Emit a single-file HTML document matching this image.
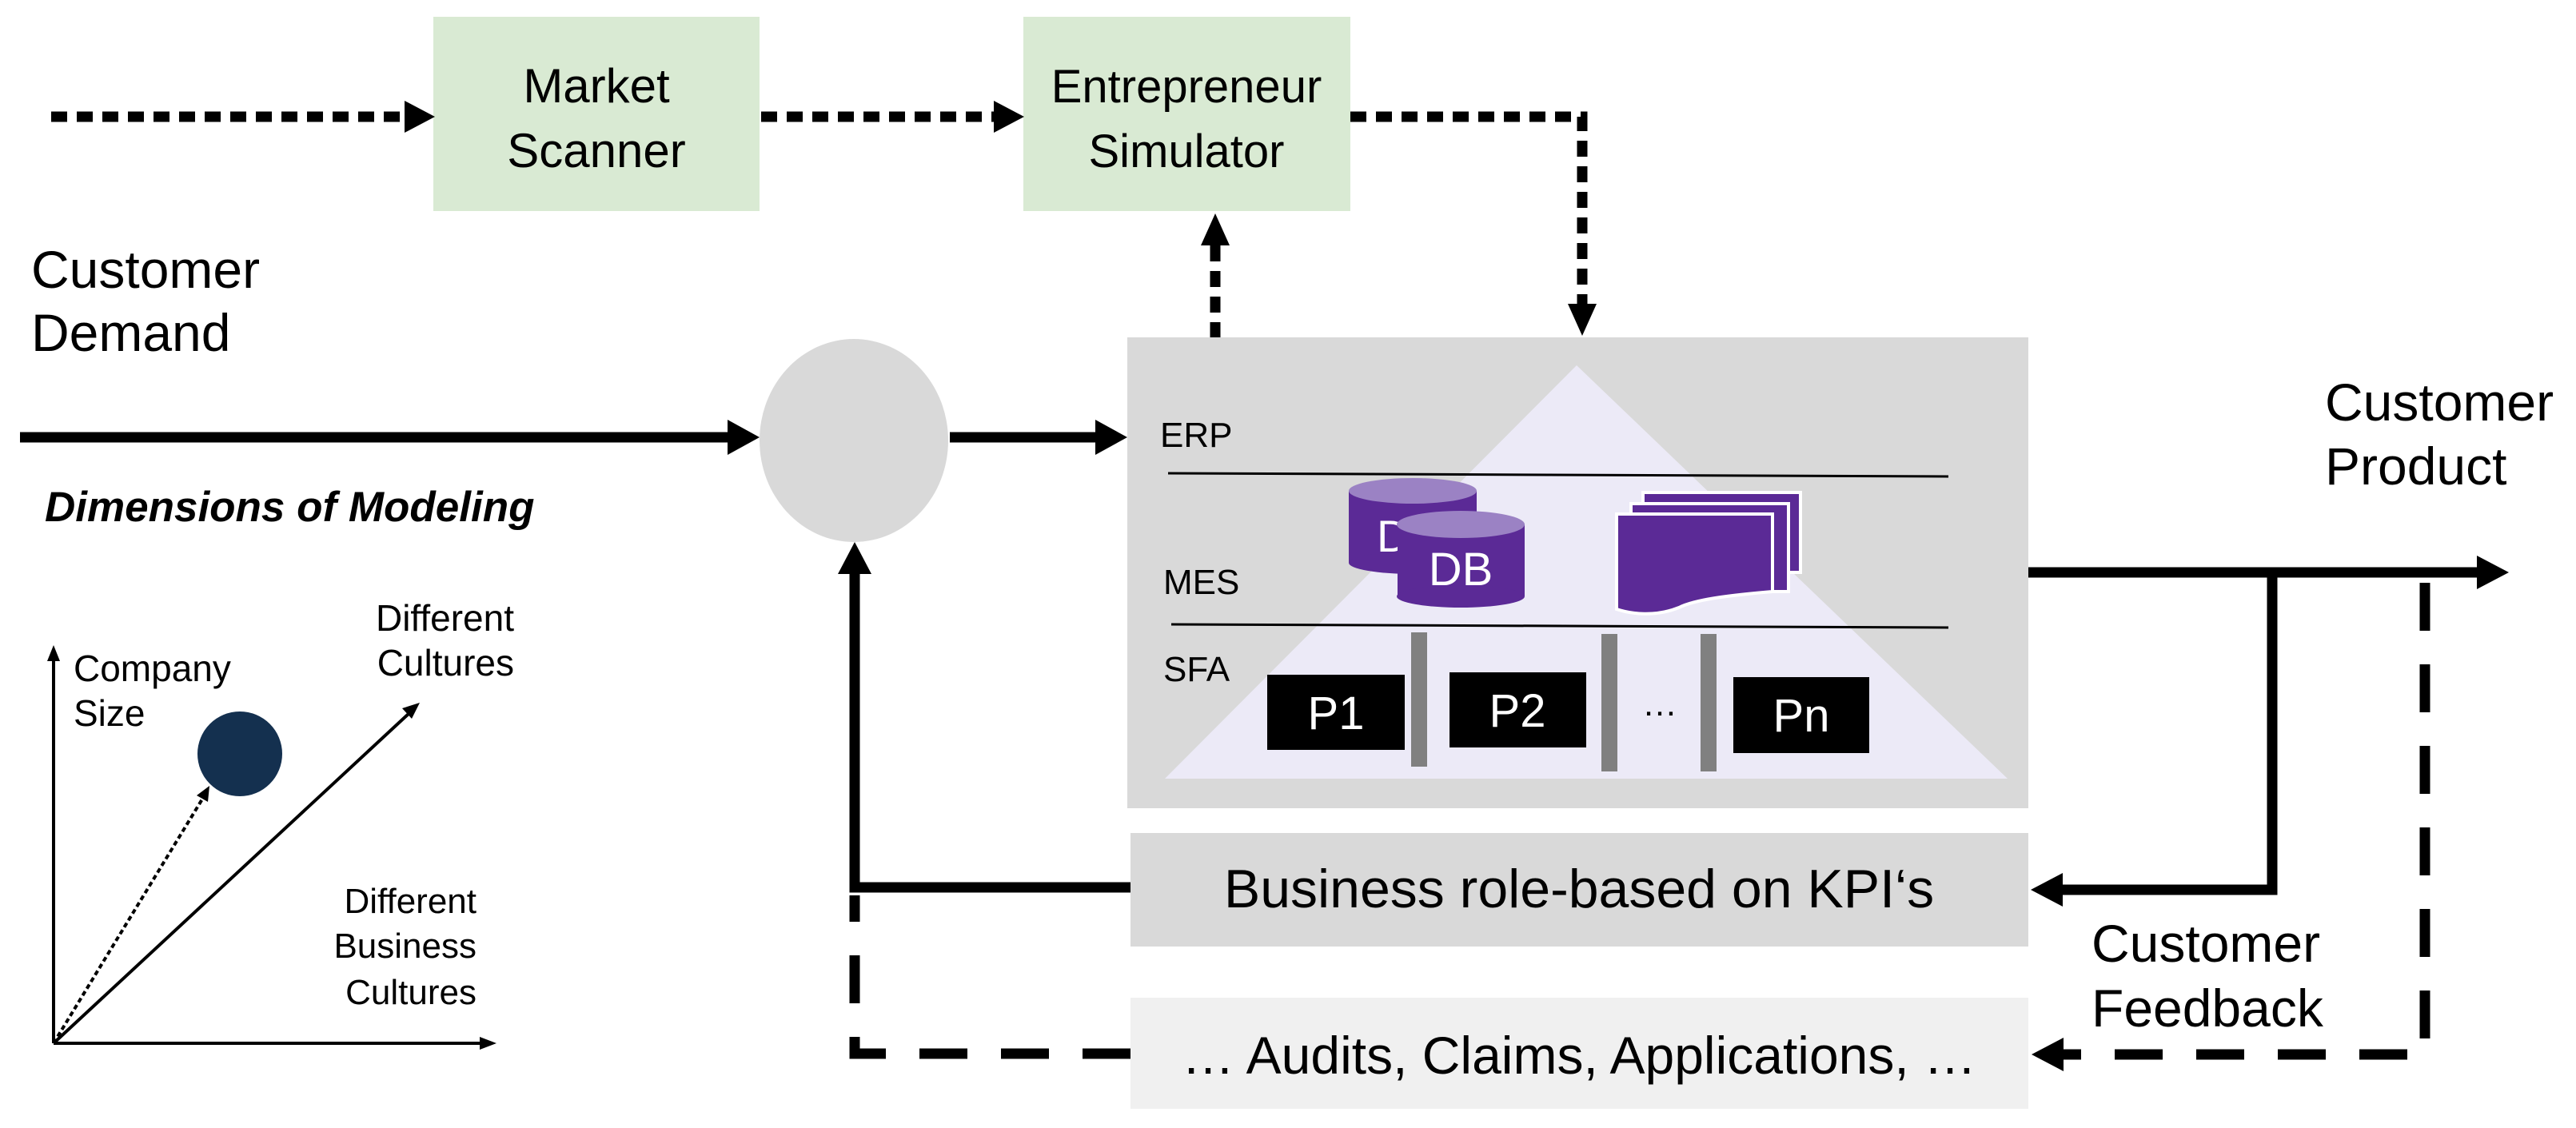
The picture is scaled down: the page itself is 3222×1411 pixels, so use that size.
<!DOCTYPE html>
<html><head><meta charset="utf-8"><style>html,body{margin:0;padding:0;background:#fff}svg{display:block}text{font-family:"Liberation Sans",Arial,sans-serif}</style></head>
<body>
<svg width="3222" height="1411" viewBox="0 0 3222 1411" xmlns="http://www.w3.org/2000/svg">
<rect x="542" y="21" width="408" height="243" fill="#d9ead3"/>
<text x="746" y="128" font-size="60" text-anchor="middle">Market</text>
<text x="746" y="209" font-size="60" text-anchor="middle">Scanner</text>
<rect x="1280" y="21" width="409" height="243" fill="#d9ead3"/>
<text x="1484" y="128" font-size="58" text-anchor="middle">Entrepreneur</text>
<text x="1484" y="209" font-size="58" text-anchor="middle">Simulator</text>

<g stroke="#000" stroke-width="13" fill="none" stroke-dasharray="20 12">
<line x1="64" y1="146" x2="508" y2="146"/>
<line x1="952" y1="146" x2="1245" y2="146"/>
<polyline points="1689,146 1979,146 1979,380"/>
<line x1="1520" y1="423" x2="1520" y2="305"/>
</g>
<polygon points="544,146 506,126 506,166" fill="#000"/>
<polygon points="1281,146 1243,126 1243,166" fill="#000"/>
<polygon points="1979,420 1961,380 1997,380" fill="#000"/>
<polygon points="1520,267 1502,307 1538,307" fill="#000"/>

<text x="39" y="360" font-size="66">Customer</text>
<text x="39" y="439" font-size="66">Demand</text>
<text x="56" y="652" font-size="53" font-weight="bold" font-style="italic">Dimensions of Modeling</text>

<line x1="25" y1="547" x2="912" y2="547" stroke="#000" stroke-width="13"/>
<polygon points="950,547 910,525 910,569" fill="#000"/>
<ellipse cx="1068" cy="551" rx="118" ry="127" fill="#d9d9d9"/>
<line x1="1188" y1="547" x2="1372" y2="547" stroke="#000" stroke-width="13"/>
<polygon points="1410,547 1370,525 1370,569" fill="#000"/>

<rect x="1410" y="422" width="1127" height="589" fill="#d9d9d9"/>
<polygon points="1972,457 1457,974 2511,974" fill="#eceaf7"/>
<line x1="1461" y1="592" x2="2437" y2="596" stroke="#000" stroke-width="3"/>
<line x1="1465" y1="781" x2="2437" y2="785" stroke="#000" stroke-width="3"/>
<text x="1451" y="559" font-size="44">ERP</text>
<text x="1455" y="743" font-size="44">MES</text>
<text x="1455" y="852" font-size="44">SFA</text>

<g>
<rect x="1687" y="614" width="160" height="90" fill="#5b2a96"/>
<ellipse cx="1767" cy="704" rx="80" ry="14" fill="#5b2a96"/>
<ellipse cx="1767" cy="614" rx="80" ry="16" fill="#9b82c4"/>
<text x="1722" y="690" font-size="56" fill="#fff">D</text>
<rect x="1748" y="656" width="159" height="90" fill="#5b2a96"/>
<ellipse cx="1827" cy="746" rx="80" ry="14" fill="#5b2a96"/>
<ellipse cx="1827" cy="656" rx="80" ry="17" fill="#9b82c4"/>
<text x="1827" y="732" font-size="58" fill="#fff" text-anchor="middle">DB</text>
</g>
<g stroke="#fff" stroke-width="4">
<rect x="2055" y="616" width="197" height="100" fill="#5b2a96"/>
<rect x="2040" y="630" width="197" height="110" fill="#5b2a96"/>
<path d="M2022,643 H2217 V740 C2160,745 2120,750 2100,760 C2070,772 2040,768 2022,762 Z" fill="#5b2a96"/>
</g>
<rect x="1765" y="791" width="20" height="168" fill="#808080"/>
<rect x="2003" y="793" width="20" height="172" fill="#808080"/>
<rect x="2127" y="793" width="20" height="172" fill="#808080"/>
<rect x="1585" y="844" width="172" height="94" fill="#000"/>
<text x="1671" y="912" font-size="58" fill="#fff" text-anchor="middle">P1</text>
<rect x="1813" y="841" width="171" height="94" fill="#000"/>
<text x="1898" y="909" font-size="58" fill="#fff" text-anchor="middle">P2</text>
<text x="2076" y="895" font-size="44" text-anchor="middle">…</text>
<rect x="2168" y="847" width="170" height="95" fill="#000"/>
<text x="2253" y="915" font-size="58" fill="#fff" text-anchor="middle">Pn</text>

<text x="2908" y="526" font-size="66">Customer</text>
<text x="2908" y="606" font-size="66">Product</text>
<line x1="2537" y1="716" x2="3100" y2="716" stroke="#000" stroke-width="13"/>
<polygon points="3138,716 3098,695 3098,737" fill="#000"/>
<polyline points="2842,716 2842,1113 2578,1113" stroke="#000" stroke-width="13" fill="none"/>
<polygon points="2540,1113 2580,1092 2580,1134" fill="#000"/>
<polyline points="3033,729 3033,1319 2580,1319" stroke="#000" stroke-width="13" fill="none" stroke-dasharray="60 42"/>
<polygon points="2541,1319 2581,1298 2581,1340" fill="#000"/>
<text x="2616" y="1203" font-size="66">Customer</text>
<text x="2616" y="1284" font-size="66">Feedback</text>

<rect x="1414" y="1042" width="1123" height="142" fill="#d9d9d9"/>
<text x="1975" y="1135" font-size="68" text-anchor="middle">Business role-based on KPI‘s</text>
<rect x="1414" y="1248" width="1123" height="139" fill="#f0f0f0"/>
<text x="1975" y="1343" font-size="66" text-anchor="middle">… Audits, Claims, Applications, …</text>

<polyline points="1414,1110 1069,1110 1069,716" stroke="#000" stroke-width="13" fill="none"/>
<polygon points="1069,678 1048,718 1090,718" fill="#000"/>
<polyline points="1414,1318 1069,1318 1069,1120" stroke="#000" stroke-width="13" fill="none" stroke-dasharray="60 42"/>

<g stroke="#000" stroke-width="4" fill="none">
<line x1="67" y1="1305" x2="67" y2="825"/>
<line x1="67" y1="1305" x2="602" y2="1305"/>
<line x1="67" y1="1305" x2="512" y2="892"/>
<line x1="67" y1="1305" x2="254" y2="998" stroke-dasharray="6 4"/>
</g>
<polygon points="67,807 59,827 75,827" fill="#000"/>
<polygon points="621,1305 600,1297 600,1313" fill="#000"/>
<polygon points="525,879 503,886 515,899" fill="#000"/>
<polygon points="262,983 246,995 260,1003" fill="#000"/>
<circle cx="300" cy="943" r="53" fill="#14304f"/>
<text x="92" y="852" font-size="46">Company</text>
<text x="92" y="908" font-size="46">Size</text>
<text x="643" y="789" font-size="46" text-anchor="end">Different</text>
<text x="643" y="845" font-size="46" text-anchor="end">Cultures</text>
<text x="596" y="1142" font-size="44" text-anchor="end">Different</text>
<text x="596" y="1198" font-size="44" text-anchor="end">Business</text>
<text x="596" y="1256" font-size="44" text-anchor="end">Cultures</text>
</svg>
</body></html>
